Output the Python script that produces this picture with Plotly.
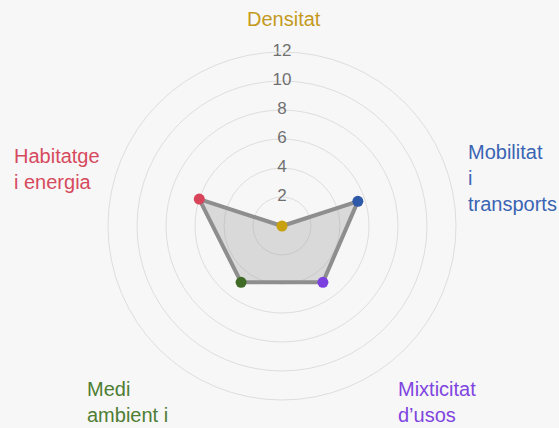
import plotly.graph_objects as go

categories = ["Densitat", "Mobilitat i transports", "Mixticitat d’usos",
              "Medi ambient i", "Habitatge i energia"]
values = [0, 5.5, 4.8, 4.8, 6.0]
point_colors = ["#C9A00E", "#2E58A8", "#7C3FE0", "#3F6B26", "#D8455B"]
label_texts = ["Densitat", "Mobilitat<br>i<br>transports", "Mixticitat<br>d’usos",
               "Medi<br>ambient i", "Habitatge<br>i energia"]
label_colors = ["#C49A1E", "#3A64B4", "#7F45E0", "#4E7D33", "#D64A5E"]
radial_ticks = [2, 4, 6, 8, 10, 12]

W, H = 559, 428
cx, cy, R = 282, 226, 174
FONT = "Liberation Sans, Arial, sans-serif"

fig = go.Figure()

# polygon (closed)
fig.add_trace(go.Scatterpolar(
    r=values + values[:1], theta=categories + categories[:1],
    mode="lines", fill="toself",
    fillcolor="rgba(150,150,150,0.30)",
    line=dict(color="#8E8E8E", width=4),
    hoverinfo="skip", showlegend=False,
))
# markers
fig.add_trace(go.Scatterpolar(
    r=values, theta=categories, mode="markers",
    marker=dict(color=point_colors, size=11, line=dict(width=0)),
    showlegend=False,
))
# radial tick labels along the Densitat axis
fig.add_trace(go.Scatterpolar(
    r=radial_ticks, theta=[categories[0]] * len(radial_ticks),
    mode="text", text=[str(t) for t in radial_ticks],
    textposition="middle center",
    textfont=dict(family=FONT, size=17, color="#707070"),
    hoverinfo="skip", showlegend=False,
))

fig.update_layout(
    width=W, height=H,
    margin=dict(l=0, r=0, t=0, b=0),
    paper_bgcolor="#F7F7F7",
    plot_bgcolor="#F7F7F7",
    showlegend=False,
    polar=dict(
        domain=dict(x=[(cx - R) / W, (cx + R) / W],
                    y=[(H - cy - R) / H, (H - cy + R) / H]),
        bgcolor="#F7F7F7",
        radialaxis=dict(range=[0, 12], tickvals=radial_ticks, showticklabels=False,
                        ticks="", showline=False, gridcolor="#DEDEDE", gridwidth=1),
        angularaxis=dict(rotation=90, direction="clockwise", showticklabels=False,
                         ticks="", showgrid=False, showline=True,
                         linecolor="#DEDEDE", linewidth=1),
    ),
)

# category labels
label_pos = [
    (284, 19, "center", "middle"),
    (466, 178, "left", "middle"),
    (396, 376, "left", "top"),
    (85, 376, "left", "top"),
    (12, 169, "left", "middle"),
]
for txt, col, (x, y, xa, ya) in zip(label_texts, label_colors, label_pos):
    fig.add_annotation(
        x=x / W, y=(H - y) / H, xref="paper", yref="paper",
        text=txt, showarrow=False, xanchor=xa, yanchor=ya, align="left",
        font=dict(family=FONT, size=20, color=col),
    )

fig.write_html("out.html", config={"displayModeBar": False},
               post_script="document.body.style.margin='0';document.body.style.overflow='hidden';")
